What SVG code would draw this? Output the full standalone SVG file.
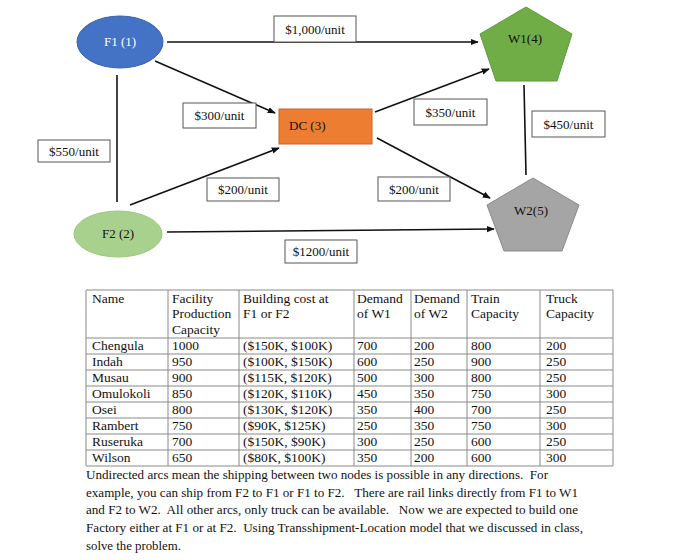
<svg xmlns="http://www.w3.org/2000/svg" width="700" height="560" viewBox="0 0 700 560">
<style>
text{font-family:"Liberation Serif","Times New Roman",serif;fill:#111}
.lbl rect{fill:#fff;stroke:#555;stroke-width:1}
.lbl text{font-size:13px;text-anchor:middle}
.edge{stroke:#111;stroke-width:1.6;fill:none}
.nt{font-size:13px;text-anchor:middle}
.tb line{stroke:#8a8a8a;stroke-width:1}
.tb text{font-size:13.5px}
.para{font-size:12.8px}
</style>
<defs>
<marker id="ah" viewBox="0 0 10 10" refX="9" refY="5" markerWidth="8" markerHeight="8" orient="auto" markerUnits="userSpaceOnUse">
<path d="M0,1 L10,5 L0,9 z" fill="#111"/>
</marker>
</defs>
<rect width="700" height="560" fill="#fff"/>
<g id="connectors">
<line class="edge" x1="167" y1="42" x2="478" y2="42" marker-end="url(#ah)"/>
<line class="edge" x1="155" y1="61" x2="275" y2="113" marker-end="url(#ah)"/>
<line class="edge" x1="375" y1="112" x2="489" y2="69" marker-end="url(#ah)"/>
<line class="edge" x1="117" y1="75" x2="117" y2="202"/>
<line class="edge" x1="524" y1="85" x2="526" y2="175"/>
<line class="edge" x1="130" y1="205" x2="279" y2="148" marker-end="url(#ah)"/>
<line class="edge" x1="377" y1="138" x2="490" y2="198" marker-end="url(#ah)"/>
<line class="edge" x1="167" y1="232" x2="494" y2="229" marker-end="url(#ah)"/>
</g>
<g id="F1"><ellipse cx="120" cy="42" rx="43" ry="26" fill="#4472C4" stroke="#3a62ad" stroke-width="1"/><text class="nt" x="120" y="46" style="fill:#fff">F1 (1)</text></g>
<g id="F2"><ellipse cx="118" cy="234" rx="44" ry="23" fill="#A9D18E" stroke="#9cc680" stroke-width="1"/><text class="nt" x="118" y="238">F2 (2)</text></g>
<g id="DC"><rect x="279" y="109" width="93" height="35" fill="#ED7D31" stroke="#c5652a" stroke-width="1"/><text x="289" y="130" style="font-size:13px">DC (3)</text></g>
<g id="W1"><polygon points="526,7 572,34 557,81 496,81 480,34" fill="#70AD47" stroke="#5f9a3c" stroke-width="1"/><text class="nt" x="525" y="43">W1(4)</text></g>
<g id="W2"><polygon points="533,178 579,205 562,251 504,251 487,205" fill="#A5A5A5" stroke="#8a8a8a" stroke-width="1"/><text class="nt" x="531" y="215">W2(5)</text></g>
<g id="labels">
<g class="lbl"><rect x="274" y="16" width="82" height="26"/><text x="315" y="33.5">$1,000/unit</text></g>
<g class="lbl"><rect x="183" y="103" width="73" height="25"/><text x="219.5" y="120">$300/unit</text></g>
<g class="lbl"><rect x="414" y="99" width="73" height="26"/><text x="450.5" y="116.5">$350/unit</text></g>
<g class="lbl"><rect x="532" y="111" width="73" height="26"/><text x="568.5" y="128.5">$450/unit</text></g>
<g class="lbl"><rect x="38" y="140" width="72" height="22"/><text x="74" y="155.5">$550/unit</text></g>
<g class="lbl"><rect x="207" y="178" width="72" height="23"/><text x="243" y="194">$200/unit</text></g>
<g class="lbl"><rect x="378" y="177" width="72" height="24"/><text x="414" y="193.5">$200/unit</text></g>
<g class="lbl"><rect x="285" y="240" width="72" height="23"/><text x="321" y="256">$1200/unit</text></g>
</g>
<g id="table" class="tb">
<line x1="86" y1="290" x2="613" y2="290"/>
<line x1="86" y1="338" x2="613" y2="338"/>
<line x1="86" y1="354" x2="613" y2="354"/>
<line x1="86" y1="370" x2="613" y2="370"/>
<line x1="86" y1="386" x2="613" y2="386"/>
<line x1="86" y1="402" x2="613" y2="402"/>
<line x1="86" y1="418" x2="613" y2="418"/>
<line x1="86" y1="434" x2="613" y2="434"/>
<line x1="86" y1="450" x2="613" y2="450"/>
<line x1="86" y1="466" x2="613" y2="466"/>
<line x1="86" y1="290" x2="86" y2="466"/>
<line x1="168" y1="290" x2="168" y2="466"/>
<line x1="239" y1="290" x2="239" y2="466"/>
<line x1="354" y1="290" x2="354" y2="466"/>
<line x1="411" y1="290" x2="411" y2="466"/>
<line x1="467" y1="290" x2="467" y2="466"/>
<line x1="540" y1="290" x2="540" y2="466"/>
<line x1="613" y1="290" x2="613" y2="466"/>
<text x="92" y="303">Name</text>
<text x="172" y="303">Facility</text><text x="172" y="318">Production</text><text x="172" y="334">Capacity</text>
<text x="243" y="303">Building cost at</text><text x="243" y="318">F1 or F2</text>
<text x="357" y="303">Demand</text><text x="357" y="318">of W1</text>
<text x="414" y="303">Demand</text><text x="414" y="318">of W2</text>
<text x="471" y="303">Train</text><text x="471" y="318">Capacity</text>
<text x="546" y="303">Truck</text><text x="546" y="318">Capacity</text>
<text x="92" y="350">Chengula</text><text x="172" y="350">1000</text><text x="243" y="350">($150K, $100K)</text><text x="357" y="350">700</text><text x="414" y="350">200</text><text x="471" y="350">800</text><text x="546" y="350">200</text>
<text x="92" y="366">Indah</text><text x="172" y="366">950</text><text x="243" y="366">($100K, $150K)</text><text x="357" y="366">600</text><text x="414" y="366">250</text><text x="471" y="366">900</text><text x="546" y="366">250</text>
<text x="92" y="382">Musau</text><text x="172" y="382">900</text><text x="243" y="382">($115K, $120K)</text><text x="357" y="382">500</text><text x="414" y="382">300</text><text x="471" y="382">800</text><text x="546" y="382">250</text>
<text x="92" y="398">Omulokoli</text><text x="172" y="398">850</text><text x="243" y="398">($120K, $110K)</text><text x="357" y="398">450</text><text x="414" y="398">350</text><text x="471" y="398">750</text><text x="546" y="398">300</text>
<text x="92" y="414">Osei</text><text x="172" y="414">800</text><text x="243" y="414">($130K, $120K)</text><text x="357" y="414">350</text><text x="414" y="414">400</text><text x="471" y="414">700</text><text x="546" y="414">250</text>
<text x="92" y="430">Rambert</text><text x="172" y="430">750</text><text x="243" y="430">($90K, $125K)</text><text x="357" y="430">250</text><text x="414" y="430">350</text><text x="471" y="430">750</text><text x="546" y="430">300</text>
<text x="92" y="446">Ruseruka</text><text x="172" y="446">700</text><text x="243" y="446">($150K, $90K)</text><text x="357" y="446">300</text><text x="414" y="446">250</text><text x="471" y="446">600</text><text x="546" y="446">250</text>
<text x="92" y="462">Wilson</text><text x="172" y="462">650</text><text x="243" y="462">($80K, $100K)</text><text x="357" y="462">350</text><text x="414" y="462">200</text><text x="471" y="462">600</text><text x="546" y="462">300</text>
</g>
<g id="paragraph">
<text class="para" x="86" y="479" textLength="462" lengthAdjust="spacingAndGlyphs" xml:space="preserve">Undirected arcs mean the shipping between two nodes is possible in any directions.  For</text>
<text class="para" x="86" y="497" textLength="492" lengthAdjust="spacingAndGlyphs" xml:space="preserve">example, you can ship from F2 to F1 or F1 to F2.   There are rail links directly from F1 to W1</text>
<text class="para" x="86" y="514" textLength="492" lengthAdjust="spacingAndGlyphs" xml:space="preserve">and F2 to W2.  All other arcs, only truck can be available.   Now we are expected to build one</text>
<text class="para" x="86" y="532" textLength="497" lengthAdjust="spacingAndGlyphs" xml:space="preserve">Factory either at F1 or at F2.  Using Transshipment-Location model that we discussed in class,</text>
<text class="para" x="86" y="550">solve the problem.</text>
</g>
</svg>
